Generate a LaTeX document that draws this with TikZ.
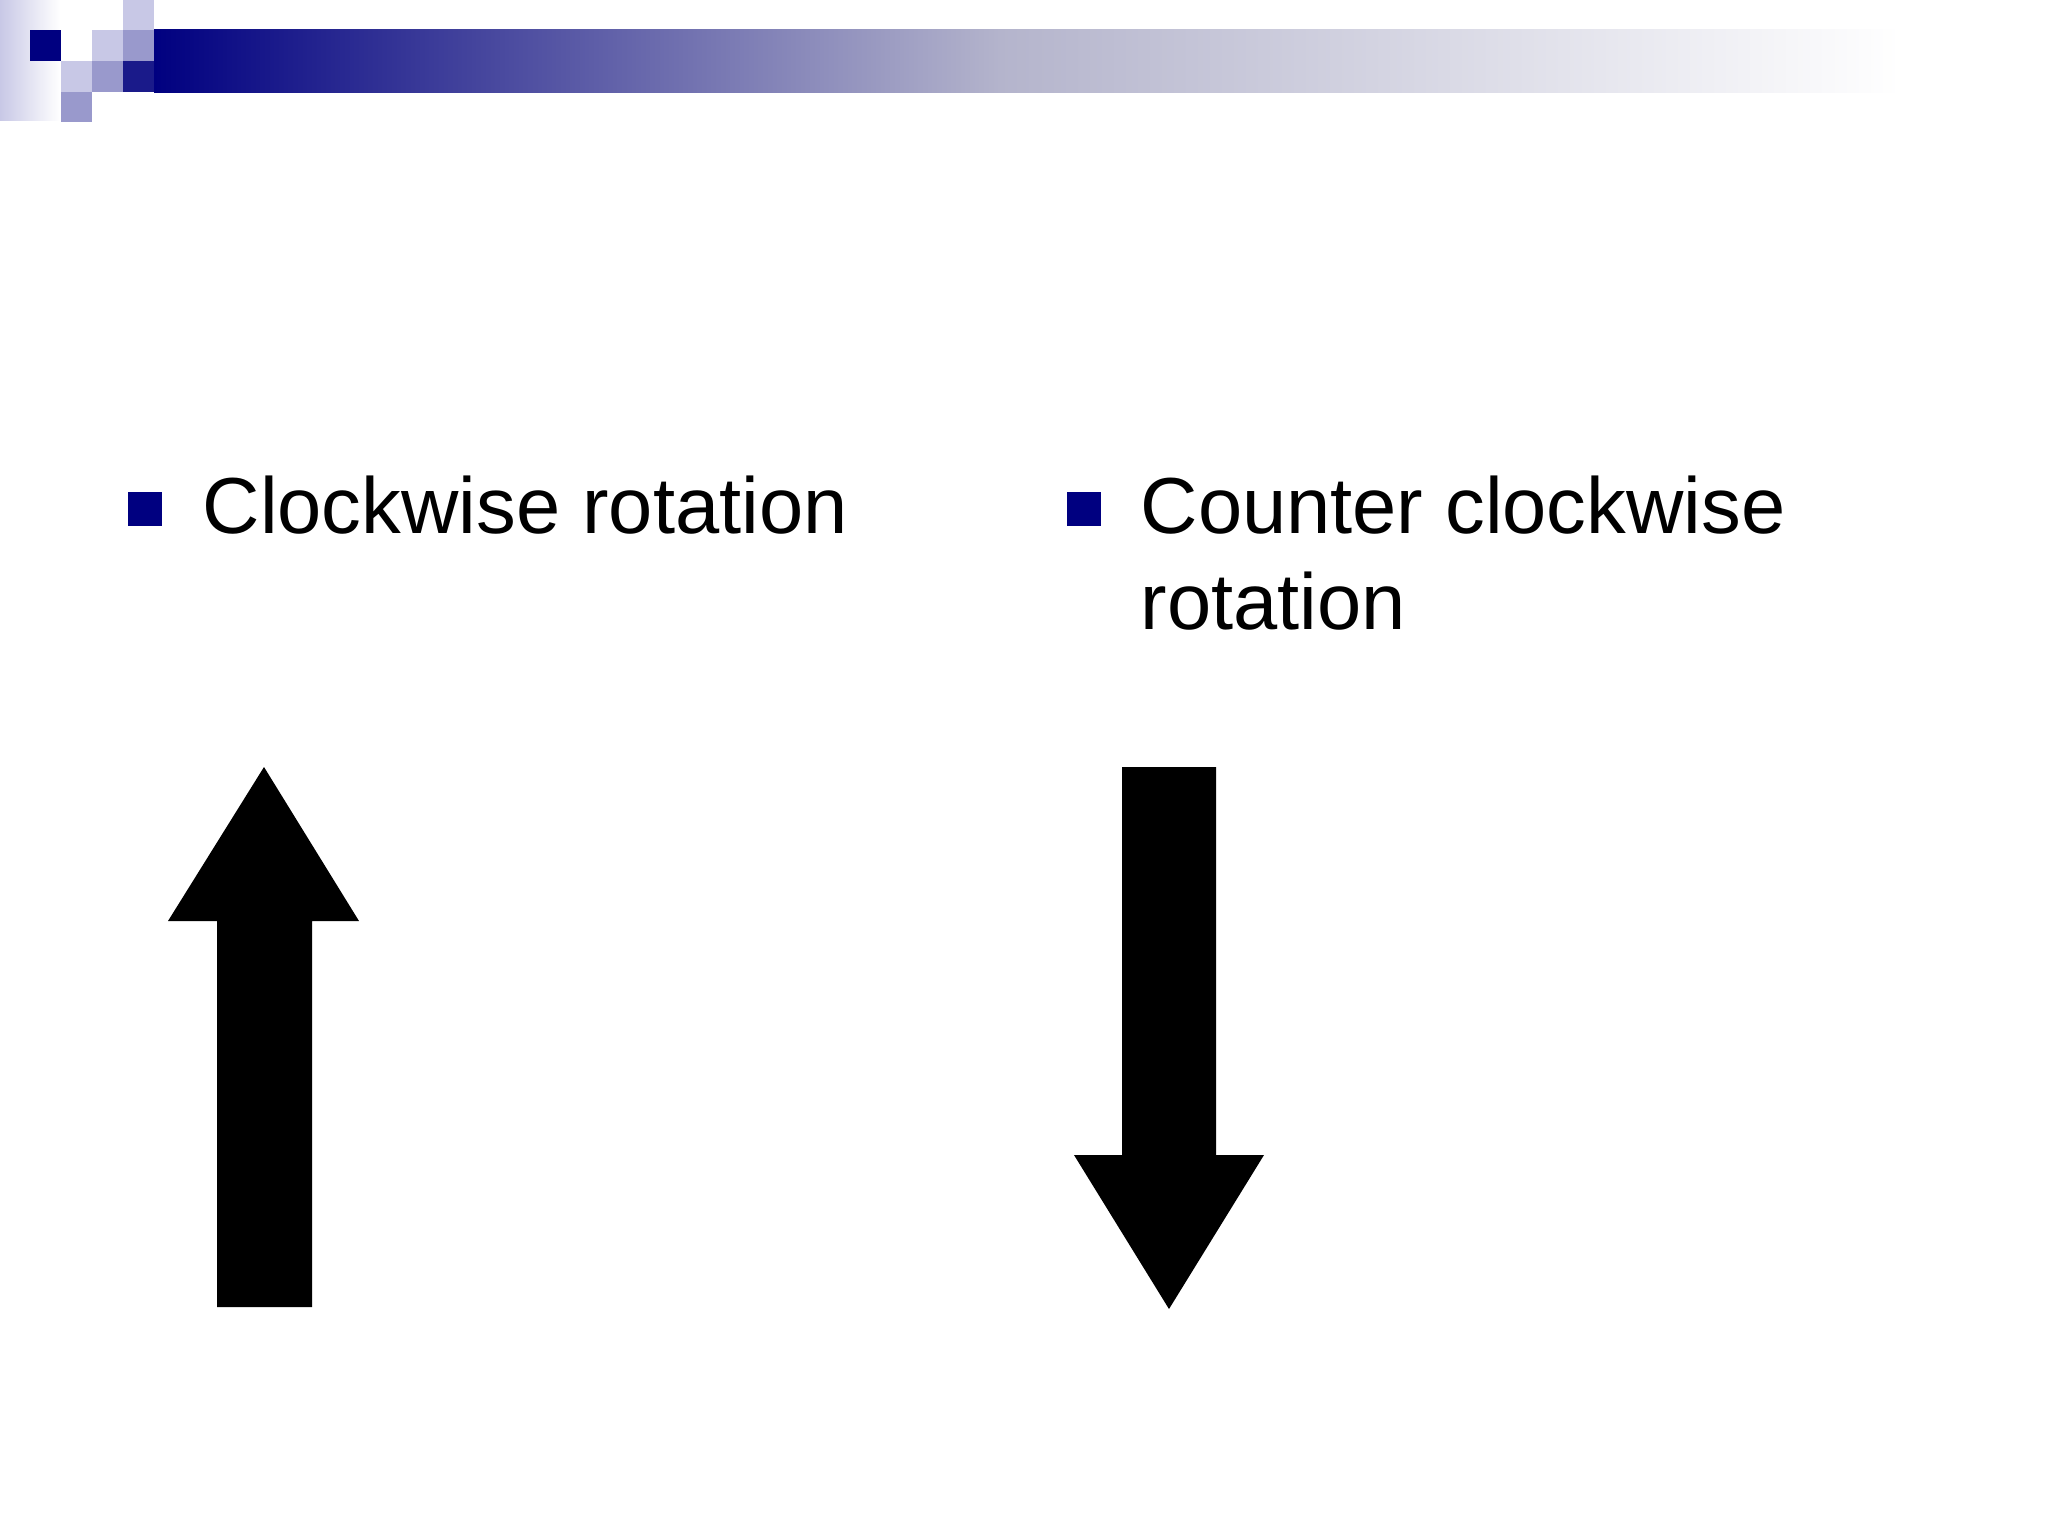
\documentclass[tikz,border=0pt]{standalone}
\usepackage{fontspec}
\setmainfont{Liberation Sans}
\begin{document}
\begin{tikzpicture}[x=0.01cm,y=-0.01cm,
  bul/.style={fill=navyc,draw=none,minimum size=0.34cm,inner sep=0pt},
  lbl/.style={anchor=base west,inner sep=0pt,font=\fontsize{22.6}{27.3}\selectfont},
  arr/.style={fill=black}]
\definecolor{navyc}{HTML}{000080}
\definecolor{lavl}{HTML}{C8C8E6}
\definecolor{lavm}{HTML}{9999CC}
\definecolor{blued}{HTML}{1A1A8A}
\definecolor{gmid}{HTML}{B4B4CC}
\useasboundingbox (0,0) rectangle (2048,1536);
\fill[white] (0,0) rectangle (2048,1536);
% decoration
\shade[left color=lavl,right color=white] (0,0) rectangle (60,120);
\shade[left color=navyc,right color=gmid] (154,29) rectangle (1000,92);
\shade[left color=gmid,right color=white] (999,29) rectangle (1900,92);
\fill[lavl] (123,0) rectangle (154,30);
\fill[navyc] (30,30) rectangle (61,61);
\fill[lavl] (92,30) rectangle (123,61);
\fill[lavm] (123,30) rectangle (154,61);
\fill[lavl] (61,61) rectangle (92,92);
\fill[lavm] (92,61) rectangle (123,92);
\fill[blued] (123,61) rectangle (154,92);
\fill[lavm] (61,92) rectangle (92,122);
% bullets
\node[bul] (b1) at (145,509) {};
\node[bul] (b2) at (1084,509) {};
\node[lbl] (t1) at (202,533) {Clockwise rotation};
\node[lbl] (t2) at (1140,533) {\begin{tabular}[t]{@{}l@{}}Counter clockwise\\rotation\end{tabular}};
% arrows
\fill[arr] (264,767) -- (359,921) -- (312,921) -- (312,1307) -- (217,1307) -- (217,921) -- (168,921) -- cycle;
\fill[arr] (1122,767) -- (1216,767) -- (1216,1155) -- (1264,1155) -- (1169,1309) -- (1074,1155) -- (1122,1155) -- cycle;
\end{tikzpicture}
\end{document}
